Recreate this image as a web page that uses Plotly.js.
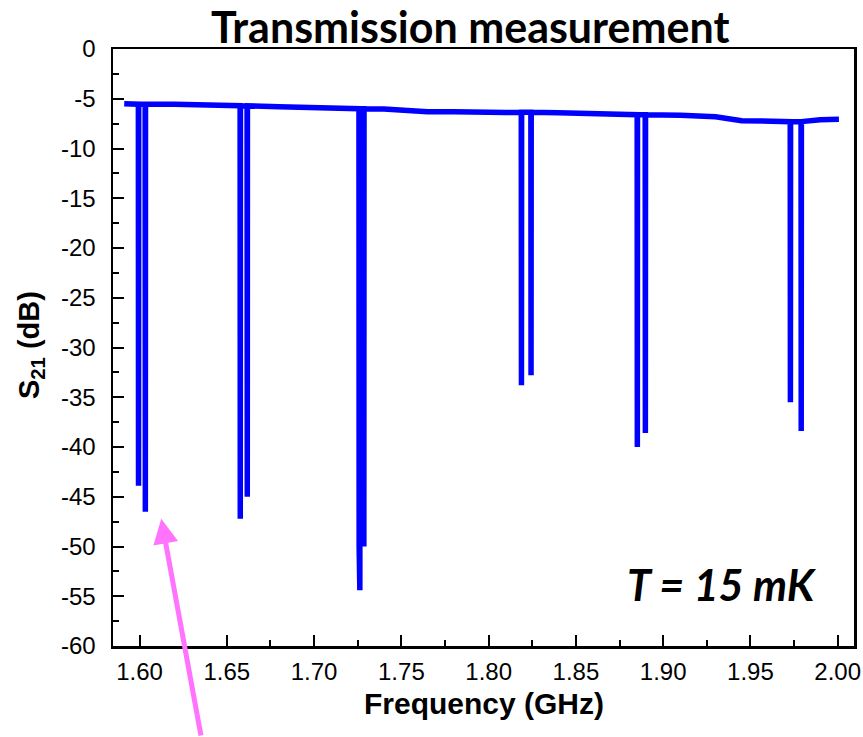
<!DOCTYPE html>
<html>
<head>
<meta charset="utf-8">
<script src="https://cdn.plot.ly/plotly-3.0.1.min.js"></script>
<style>
  html, body { margin: 0; padding: 0; background: #ffffff; }
  #chart { width: 863px; height: 737px; }
</style>
</head>
<body>
<div id="chart"></div>
<script>
// Frequency (GHz) and S21 (dB)
const frequency = [
  1.5912, 1.5960,
  1.5993, 1.5994, 1.5995,
  1.6032, 1.6033, 1.6034,
  1.6200, 1.6350,
  1.6576, 1.6577, 1.6578,
  1.6616, 1.6617, 1.6618,
  1.6800, 1.7000, 1.7150,
  1.7257, 1.7258, 1.7259,
  1.7261, 1.7262, 1.7263,
  1.7284, 1.7285, 1.7286,
  1.7400, 1.7500, 1.7650, 1.7800, 1.7950, 1.8000, 1.8100,
  1.8187, 1.8188, 1.8189,
  1.8242, 1.8243, 1.8244,
  1.8400, 1.8600, 1.8750,
  1.8851, 1.8852, 1.8853,
  1.8897, 1.8898, 1.8899,
  1.9100, 1.9300, 1.9450, 1.9600,
  1.9728, 1.9729, 1.9730,
  1.9790, 1.9791, 1.9792,
  1.9900, 2.0007
];
const s21 = [
  -5.50, -5.52,
  -5.55, -43.9, -5.55,
  -5.55, -46.5, -5.55,
  -5.55, -5.58,
  -5.70, -47.2, -5.70,
  -5.72, -45.0, -5.72,
  -5.80, -5.90, -5.95,
  -6.00, -50.0, -6.00,
  -6.00, -54.4, -6.00,
  -6.00, -50.0, -6.00,
  -6.02, -6.15, -6.30, -6.30, -6.40, -6.45, -6.38,
  -6.35, -33.8, -6.35,
  -6.35, -32.8, -6.35,
  -6.40, -6.50, -6.55,
  -6.60, -40.0, -6.60,
  -6.60, -38.6, -6.60,
  -6.65, -6.80, -7.20, -7.30,
  -7.30, -35.5, -7.30,
  -7.30, -38.4, -7.30,
  -7.10, -7.05
];

const xTickValues = [1.60, 1.65, 1.70, 1.75, 1.80, 1.85, 1.90, 1.95, 2.00];
const xTickLabels = ["1.60", "1.65", "1.70", "1.75", "1.80", "1.85", "1.90", "1.95", "2.00"];
const yTickValues = [0, -5, -10, -15, -20, -25, -30, -35, -40, -45, -50, -55, -60];
const yTickLabels = ["0", "-5", "-10", "-15", "-20", "-25", "-30", "-35", "-40", "-45", "-50", "-55", "-60"];

const sansFamily = "Arial, 'Liberation Sans', sans-serif";
const tickFont = { family: sansFamily, size: 24, color: "#000000" };

const trace = {
  type: "scatter",
  mode: "lines",
  x: frequency,
  y: s21,
  line: { color: "#0000ff", width: 5.5 },
  hoverinfo: "x+y",
  showlegend: false
};

const layout = {
  width: 863,
  height: 737,
  paper_bgcolor: "#ffffff",
  plot_bgcolor: "#ffffff",
  margin: { l: 113, r: 9, t: 49, b: 91 },
  title: {
    text: "<b>Transmission measurement</b>",
    font: { family: "Lato, sans-serif", size: 43, color: "#000000" },
    xref: "paper", x: 0.482, xanchor: "center",
    yref: "container", y: 0.962, yanchor: "middle"
  },
  xaxis: {
    range: [1.58477, 2.00934],
    tickmode: "array",
    tickvals: xTickValues,
    ticktext: xTickLabels,
    ticks: "inside",
    ticklen: 11,
    tickwidth: 2,
    tickcolor: "#000000",
    minor: { dtick: 0.025, tick0: 1.6, ticks: "inside", ticklen: 6, tickwidth: 2, tickcolor: "#000000", showgrid: false },
    showline: true,
    linewidth: 2.5,
    linecolor: "#000000",
    mirror: true,
    showgrid: false,
    zeroline: false,
    tickfont: tickFont,
    ticklabelstandoff: 3
  },
  yaxis: {
    range: [-60, 0],
    tickmode: "array",
    tickvals: yTickValues,
    ticktext: yTickLabels,
    ticks: "inside",
    ticklen: 11,
    tickwidth: 2,
    tickcolor: "#000000",
    minor: { dtick: 2.5, tick0: 0, ticks: "inside", ticklen: 6, tickwidth: 2, tickcolor: "#000000", showgrid: false },
    showline: true,
    linewidth: 2.5,
    linecolor: "#000000",
    mirror: true,
    showgrid: false,
    zeroline: false,
    tickfont: tickFont,
    ticklabelstandoff: 10
  },
  annotations: [
    {
      xref: "paper", yref: "paper",
      x: (484 - 113) / 741, y: (646 - 703) / 597,
      xanchor: "center", yanchor: "middle",
      text: "<b>Frequency (GHz)</b>",
      showarrow: false,
      font: { family: sansFamily, size: 30, color: "#000000" }
    },
    {
      xref: "paper", yref: "paper",
      x: (31 - 113) / 741, y: (646 - 345) / 597,
      xanchor: "center", yanchor: "middle",
      textangle: -90,
      text: "<b>S<sub>21</sub> (dB)</b>",
      showarrow: false,
      font: { family: sansFamily, size: 29, color: "#000000" }
    },
    {
      xref: "paper", yref: "paper",
      x: (722 - 113) / 741, y: (646 - 584) / 597,
      xanchor: "center", yanchor: "middle",
      text: "<b><i>T = 15 mK</i></b>",
      showarrow: false,
      font: { family: "Lato, sans-serif", size: 43, color: "#000000" }
    },
    {
      xref: "x", yref: "y",
      x: 1.6124, y: -47.2,
      axref: "pixel", ayref: "pixel",
      ax: 40, ay: 232,
      text: "",
      showarrow: true,
      arrowhead: 2,
      arrowsize: 1,
      arrowwidth: 5,
      arrowcolor: "#ff73ff"
    }
  ]
};

Plotly.newPlot("chart", [trace], layout, { displayModeBar: false, staticPlot: true });
</script>
</body>
</html>
